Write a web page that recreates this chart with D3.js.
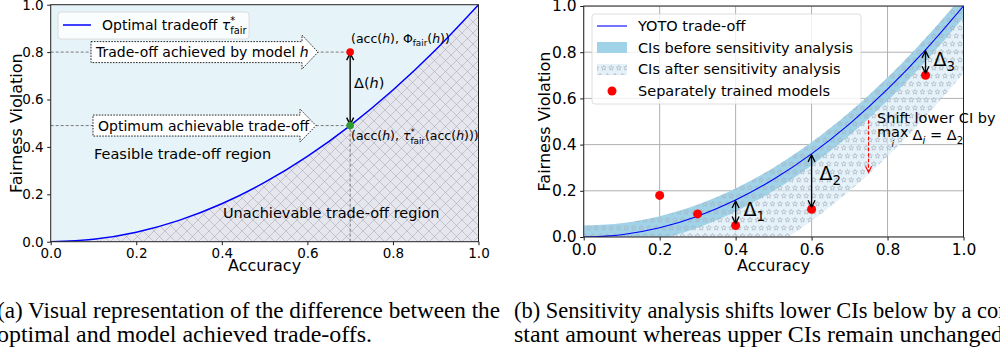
<!DOCTYPE html>
<html>
<head>
<meta charset="utf-8">
<script src="https://cdn.jsdelivr.net/npm/d3@7"></script>
<style>
  body { margin: 0; background: #fff; }
  svg { display: block; font-family: "DejaVu Sans", sans-serif; }
</style>
</head>
<body>
<svg id="fig" width="1000" height="356"></svg>
<script>
// ---- data ----
const accTicks = [0, 0.2, 0.4, 0.6, 0.8, 1.0];
const fairTicks = [0, 0.2, 0.4, 0.6, 0.8, 1.0];
const accGrid = [0, 0.1, 0.2, 0.3, 0.4, 0.5, 0.6, 0.7, 0.8, 0.9, 1.0];
const optimalTradeoff = [0, 0.01, 0.04, 0.09, 0.16, 0.25, 0.36, 0.49, 0.64, 0.81, 1.0];
const ciUpper = [0.05, 0.06, 0.09, 0.14, 0.21, 0.30, 0.41, 0.54, 0.69, 0.86, 1.05];
const ciLower = [-0.05, -0.04, -0.01, 0.04, 0.11, 0.20, 0.31, 0.44, 0.59, 0.76, 0.95];
const ciLowerShifted = [-0.29, -0.28, -0.25, -0.20, -0.13, -0.04, 0.07, 0.20, 0.35, 0.52, 0.71];
const modelAcc = [0.2, 0.3, 0.4, 0.6, 0.9];
const modelFair = [0.18, 0.10, 0.05, 0.12, 0.70];
const deltaAcc = [0.4, 0.6, 0.9];
const deltaTop = [0.16, 0.36, 0.81];
const deltaBottom = [0.05, 0.12, 0.70];
const deltaIndex = ["1", "2", "3"];
const modelH = { acc: 0.7, fair: 0.8, optimum: 0.49 };
const shiftArrow = { acc: 0.75, from: 0.505, to: 0.28 };

const svg = d3.select("#fig");
const defs = svg.append("defs");

// ---- hatch patterns ----
const xh = defs.append("pattern").attr("id", "xhatch").attr("patternUnits", "userSpaceOnUse")
  .attr("width", 11).attr("height", 11);
xh.append("path").attr("d", "M0,0 L11,11 M11,0 L0,11 M-1,10 L1,12 M10,-1 L12,1 M-1,1 L1,-1 M10,12 L12,10")
  .attr("stroke", "#9c9ca4").attr("stroke-width", 0.8).attr("fill", "none").attr("opacity", 0.6);

function starPath(cx, cy, r) {
  const pts = [];
  for (let k = 0; k < 10; k++) {
    const a = -Math.PI / 2 + k * Math.PI / 5;
    const rr = k % 2 === 0 ? r : r * 0.45;
    pts.push([cx + rr * Math.cos(a), cy + rr * Math.sin(a)]);
  }
  return "M" + pts.map(p => p[0].toFixed(2) + "," + p[1].toFixed(2)).join("L") + "Z";
}
const sh = defs.append("pattern").attr("id", "stars").attr("patternUnits", "userSpaceOnUse")
  .attr("width", 15).attr("height", 16);
[[3.75, 4], [11.25, 4], [0, 12], [7.5, 12], [15, 12]].forEach(([cx, cy]) => {
  sh.append("path").attr("d", starPath(cx, cy, 2.6))
    .attr("fill", "none").attr("stroke", "#a7b3bf").attr("stroke-width", 0.7);
});

// ---- helpers ----
function mathText(parent, x, y, parts, size) {
  const t = parent.append("text").attr("x", x).attr("y", y).attr("font-size", size).attr("fill", "#000");
  let shift = 0;
  parts.forEach(p => {
    const [str, kind] = typeof p === "string" ? [p, "n"] : p;
    if (kind === "supsub") {
      t.append("tspan").text("*").attr("font-size", size * 0.7).attr("dy", -0.42 * size - shift);
      t.append("tspan").text(str).attr("font-size", size * 0.7)
        .attr("dx", -0.35 * size).attr("dy", 0.7 * size);
      shift = 0.28 * size;
      return;
    }
    const ts = t.append("tspan").text(str);
    let target = 0;
    if (kind === "i") ts.attr("font-style", "italic");
    if (kind === "sub") { ts.attr("font-size", size * 0.7); target = 0.25 * size; }
    if (kind === "subi") { ts.attr("font-size", size * 0.7).attr("font-style", "italic"); target = 0.25 * size; }
    if (target !== shift) { ts.attr("dy", target - shift); shift = target; }
  });
  return t;
}

function headPath(x, y, dir, len, half) {
  // open chevron pointing in dir (+1 down, -1 up)
  return `M${x - half},${y - dir * len} L${x},${y} L${x + half},${y - dir * len}`;
}

function doubleArrow(g, x, yTop, yBot, width, color) {
  g.append("line").attr("x1", x).attr("x2", x).attr("y1", yTop).attr("y2", yBot)
    .attr("stroke", color).attr("stroke-width", width);
  g.append("path").attr("d", headPath(x, yTop, -1, 7, 3.5))
    .attr("stroke", color).attr("stroke-width", width).attr("fill", "none");
  g.append("path").attr("d", headPath(x, yBot, 1, 7, 3.5))
    .attr("stroke", color).attr("stroke-width", width).attr("fill", "none");
}

function drawAxes(g, x, y, fontSize) {
  const fmt = d3.format(".1f");
  const ax = g.append("g").attr("transform", `translate(0,${y.range()[0]})`)
    .call(d3.axisBottom(x).tickValues(accTicks).tickFormat(fmt).tickSizeInner(3.5).tickSizeOuter(0).tickPadding(3.5));
  const ay = g.append("g").attr("transform", `translate(${x.range()[0]},0)`)
    .call(d3.axisLeft(y).tickValues(fairTicks).tickFormat(fmt).tickSizeInner(3.5).tickSizeOuter(0).tickPadding(3.5));
  [ax, ay].forEach(a => {
    a.select(".domain").remove();
    a.selectAll("text").attr("font-size", fontSize).attr("font-family", "DejaVu Sans").attr("fill", "#000");
    a.selectAll("line").attr("stroke", "#000").attr("stroke-width", 0.9);
  });
  g.append("rect").attr("x", x.range()[0]).attr("y", y.range()[1])
    .attr("width", x.range()[1] - x.range()[0]).attr("height", y.range()[0] - y.range()[1])
    .attr("fill", "none").attr("stroke", "#222").attr("stroke-width", 1);
}

function axisTitles(g, x, y, xTitleY, yTitleX) {
  g.append("text").attr("x", (x.range()[0] + x.range()[1]) / 2).attr("y", xTitleY)
    .attr("text-anchor", "middle").attr("font-size", 16).text("Accuracy");
  g.append("text").attr("transform", `translate(${yTitleX},${(y.range()[0] + y.range()[1]) / 2}) rotate(-90)`)
    .attr("text-anchor", "middle").attr("font-size", 16).text("Fairness Violation");
}

const pts = accGrid.map((a, i) => i);

// =================== panel (a) ===================
const xL = d3.scaleLinear().domain([0, 1]).range([50.7, 478.5]);
const yL = d3.scaleLinear().domain([0, 1]).range([241.7, 4.7]);
const gA = svg.append("g");
defs.append("clipPath").attr("id", "clipA").append("rect")
  .attr("x", xL(0)).attr("y", yL(1)).attr("width", xL(1) - xL(0)).attr("height", yL(0) - yL(1));
const plotA = gA.append("g").attr("clip-path", "url(#clipA)");

plotA.append("rect").attr("x", xL(0)).attr("y", yL(1)).attr("width", xL(1) - xL(0))
  .attr("height", yL(0) - yL(1)).attr("fill", "#e6f3f8");

const areaUnder = d3.area().curve(d3.curveMonotoneX)
  .x(i => xL(accGrid[i])).y0(yL(0)).y1(i => yL(optimalTradeoff[i]));
plotA.append("path").attr("d", areaUnder(pts)).attr("fill", "#e6e6ef");
plotA.append("path").attr("d", areaUnder(pts)).attr("fill", "url(#xhatch)");

// guide lines
const dashA = plotA.append("g").attr("stroke", "#6e6e6e").attr("stroke-width", 0.9).attr("stroke-dasharray", "3,2");
dashA.append("line").attr("x1", xL(0)).attr("x2", xL(modelH.acc)).attr("y1", yL(modelH.fair)).attr("y2", yL(modelH.fair));
dashA.append("line").attr("x1", xL(0)).attr("x2", xL(modelH.acc)).attr("y1", yL(modelH.optimum)).attr("y2", yL(modelH.optimum));
dashA.append("line").attr("x1", xL(modelH.acc)).attr("x2", xL(modelH.acc)).attr("y1", yL(0)).attr("y2", yL(modelH.optimum));

const lineL = d3.line().curve(d3.curveMonotoneX).x(i => xL(accGrid[i])).y(i => yL(optimalTradeoff[i]));
plotA.append("path").attr("d", lineL(pts)).attr("fill", "none").attr("stroke", "#0000ff").attr("stroke-width", 1.5);

// right-arrow callout boxes
function arrowBox(g, x0, xb, xt, yc, bodyHalf, headHalf) {
  const d = `M${x0},${yc - bodyHalf} H${xb} V${yc - headHalf} L${xt},${yc} L${xb},${yc + headHalf} V${yc + bodyHalf} H${x0} Z`;
  g.append("path").attr("d", d).attr("fill", "#fff").attr("stroke", "#111")
    .attr("stroke-width", 0.9).attr("stroke-dasharray", "1.6,1.3");
}
arrowBox(gA, 91, 302, 318, yL(modelH.fair), 10.5, 17);
mathText(gA, 96, yL(modelH.fair) + 5, ["Trade-off achieved by model ", ["h", "i"]], 14);
arrowBox(gA, 93, 300, 316, yL(modelH.optimum), 10.5, 16.5);
mathText(gA, 98, yL(modelH.optimum) + 5, ["Optimum achievable trade-off"], 14);

// gap arrow between model and optimum
doubleArrow(gA, xL(modelH.acc), yL(modelH.fair) + 1, yL(modelH.optimum) - 1, 1.4, "#000");
mathText(gA, 354, 88, ["Δ(", ["h", "i"], ")"], 14.5);

gA.append("circle").attr("cx", xL(modelH.acc)).attr("cy", yL(modelH.fair)).attr("r", 3.8).attr("fill", "#ff0000");
gA.append("circle").attr("cx", xL(modelH.acc)).attr("cy", yL(modelH.optimum)).attr("r", 3.8).attr("fill", "#2e9a2e");

mathText(gA, 351, 43, ["(acc(", ["h", "i"], "), Φ", ["fair", "sub"], "(", ["h", "i"], "))"], 12.5);
mathText(gA, 351, 140, ["(acc(", ["h", "i"], "), ", ["τ", "i"], ["fair", "supsub"], "(acc(", ["h", "i"], ")))"], 12.5);

gA.append("text").attr("x", 94).attr("y", 159).attr("font-size", 14.5).text("Feasible trade-off region");
gA.append("text").attr("x", 223).attr("y", 218).attr("font-size", 14.5).text("Unachievable trade-off region");

// legend (a)
gA.append("rect").attr("x", 58).attr("y", 12).attr("width", 191).attr("height", 27).attr("rx", 3)
  .attr("fill", "#fff").attr("fill-opacity", 0.8).attr("stroke", "#d6d6d6").attr("stroke-width", 0.8);
gA.append("line").attr("x1", 63).attr("x2", 91).attr("y1", 25).attr("y2", 25)
  .attr("stroke", "#0000ff").attr("stroke-width", 1.5);
mathText(gA, 102, 30, ["Optimal tradeoff ", ["τ", "i"], ["fair", "supsub"]], 14);

drawAxes(gA, xL, yL, 13.5);
axisTitles(gA, xL, yL, 271, 22);

// =================== panel (b) ===================
const xR = d3.scaleLinear().domain([0, 1]).range([583.7, 963.5]);
const yR = d3.scaleLinear().domain([0, 1]).range([237, 6]);
const gB = svg.append("g");
defs.append("clipPath").attr("id", "clipB").append("rect")
  .attr("x", xR(0)).attr("y", yR(1)).attr("width", xR(1) - xR(0)).attr("height", yR(0) - yR(1));
const plotB = gB.append("g").attr("clip-path", "url(#clipB)");

// grid
const grid = plotB.append("g").attr("stroke", "#b0b0b0").attr("stroke-width", 1);
accTicks.forEach(t => grid.append("line").attr("x1", xR(t)).attr("x2", xR(t)).attr("y1", yR(0)).attr("y2", yR(1)));
fairTicks.forEach(t => grid.append("line").attr("x1", xR(0)).attr("x2", xR(1)).attr("y1", yR(t)).attr("y2", yR(t)));

const bandAfter = d3.area().curve(d3.curveMonotoneX)
  .x(i => xR(accGrid[i])).y0(i => yR(ciLowerShifted[i])).y1(i => yR(ciUpper[i]));
const bandBefore = d3.area().curve(d3.curveMonotoneX)
  .x(i => xR(accGrid[i])).y0(i => yR(ciLower[i])).y1(i => yR(ciUpper[i]));
plotB.append("path").attr("d", bandAfter(pts)).attr("fill", "#dcedf7").attr("fill-opacity", 0.7);
plotB.append("path").attr("d", bandBefore(pts)).attr("fill", "#a0d2e8");
plotB.append("path").attr("d", bandAfter(pts)).attr("fill", "url(#stars)");

const lineR = d3.line().curve(d3.curveMonotoneX).x(i => xR(accGrid[i])).y(i => yR(optimalTradeoff[i]));
plotB.append("path").attr("d", lineR(pts)).attr("fill", "none").attr("stroke", "#0000ff").attr("stroke-width", 1.1);

// gaps between curve and separately trained models
deltaAcc.forEach((a, k) => {
  doubleArrow(gB, xR(a), yR(deltaTop[k]) + 1, yR(deltaBottom[k]) - 2, 1.3, "#000");
});
mathText(gB, xR(deltaAcc[0]) + 8, 216, ["Δ", [deltaIndex[0], "sub"]], 19);
mathText(gB, xR(deltaAcc[1]) + 8, 180, ["Δ", [deltaIndex[1], "sub"]], 19);
mathText(gB, xR(deltaAcc[2]) + 8, 66, ["Δ", [deltaIndex[2], "sub"]], 19);

plotB.selectAll("circle.model").data(modelAcc).join("circle").attr("class", "model")
  .attr("cx", d => xR(d)).attr("cy", (d, i) => yR(modelFair[i])).attr("r", 4.5).attr("fill", "#ff0000");

// shift annotation
const sx = xR(shiftArrow.acc);
gB.append("line").attr("x1", sx).attr("x2", sx).attr("y1", yR(shiftArrow.from)).attr("y2", yR(shiftArrow.to))
  .attr("stroke", "#ff0000").attr("stroke-width", 1.1).attr("stroke-dasharray", "3.5,2");
gB.append("path").attr("d", headPath(sx, yR(shiftArrow.to), 1, 6, 3))
  .attr("stroke", "#ff0000").attr("stroke-width", 1.1).attr("fill", "none");
gB.append("text").attr("x", 877).attr("y", 123).attr("font-size", 14.5).text("Shift lower CI by");
const maxT = gB.append("text").attr("x", 877).attr("y", 137).attr("font-size", 14.5).text("max");
const maxW = maxT.node().getComputedTextLength();
gB.append("text").attr("x", 877 + maxW / 2).attr("y", 147).attr("font-size", 9)
  .attr("font-style", "italic").attr("text-anchor", "middle").text("i");
mathText(gB, 877 + maxW + 4, 140, ["Δ", ["i", "subi"], " = Δ", ["2", "sub"]], 14.5);

// legend (b)
gB.append("rect").attr("x", 592).attr("y", 14).attr("width", 269).attr("height", 90).attr("rx", 3)
  .attr("fill", "#fff").attr("fill-opacity", 0.8).attr("stroke", "#d6d6d6").attr("stroke-width", 0.8);
gB.append("line").attr("x1", 597).attr("x2", 627).attr("y1", 26).attr("y2", 26)
  .attr("stroke", "#0000ff").attr("stroke-width", 1.1);
gB.append("rect").attr("x", 597).attr("y", 42).attr("width", 30).attr("height", 11).attr("fill", "#a0d2e8");
gB.append("rect").attr("x", 597).attr("y", 64).attr("width", 30).attr("height", 11).attr("fill", "#e4f1f8");
gB.append("rect").attr("x", 597).attr("y", 64).attr("width", 30).attr("height", 11).attr("fill", "url(#stars)");
gB.append("circle").attr("cx", 612).attr("cy", 91).attr("r", 4.5).attr("fill", "#ff0000");
const legendLabels = ["YOTO trade-off", "CIs before sensitivity analysis", "CIs after sensitivity analysis", "Separately trained models"];
legendLabels.forEach((s, i) => {
  gB.append("text").attr("x", 638).attr("y", 31 + i * 21.7).attr("font-size", 14.5).text(s);
});

drawAxes(gB, xR, yR, 15.5);
axisTitles(gB, xR, yR, 271, 550);

// =================== captions ===================
const cap = svg.append("g").attr("font-family", "'Liberation Serif', 'Times New Roman', serif").attr("font-size", 24);
const capLines = [
  { x: -3, y: 318, s: "(a) Visual representation of the difference between the", justify: true },
  { x: -3, y: 342, s: "optimal and model achieved trade-offs.", justify: false },
  { x: 514, y: 318, s: "(b) Sensitivity analysis shifts lower CIs below by a con-", justify: true },
  { x: 514, y: 342, s: "stant amount whereas upper CIs remain unchanged.", justify: false }
];
const capNodes = capLines.map(c => cap.append("text").attr("x", c.x).attr("y", c.y).text(c.s));
// condense glyphs so the last line of (a) ends at its column position; justify full lines to the column width
const squeeze = 375 / capNodes[1].node().getComputedTextLength();
const columnWidth = 503;
capNodes.forEach((n, k) => {
  const w = n.node().getComputedTextLength() * squeeze;
  n.attr("textLength", capLines[k].justify ? columnWidth : w).attr("lengthAdjust", "spacingAndGlyphs");
});
</script>
</body>
</html>
